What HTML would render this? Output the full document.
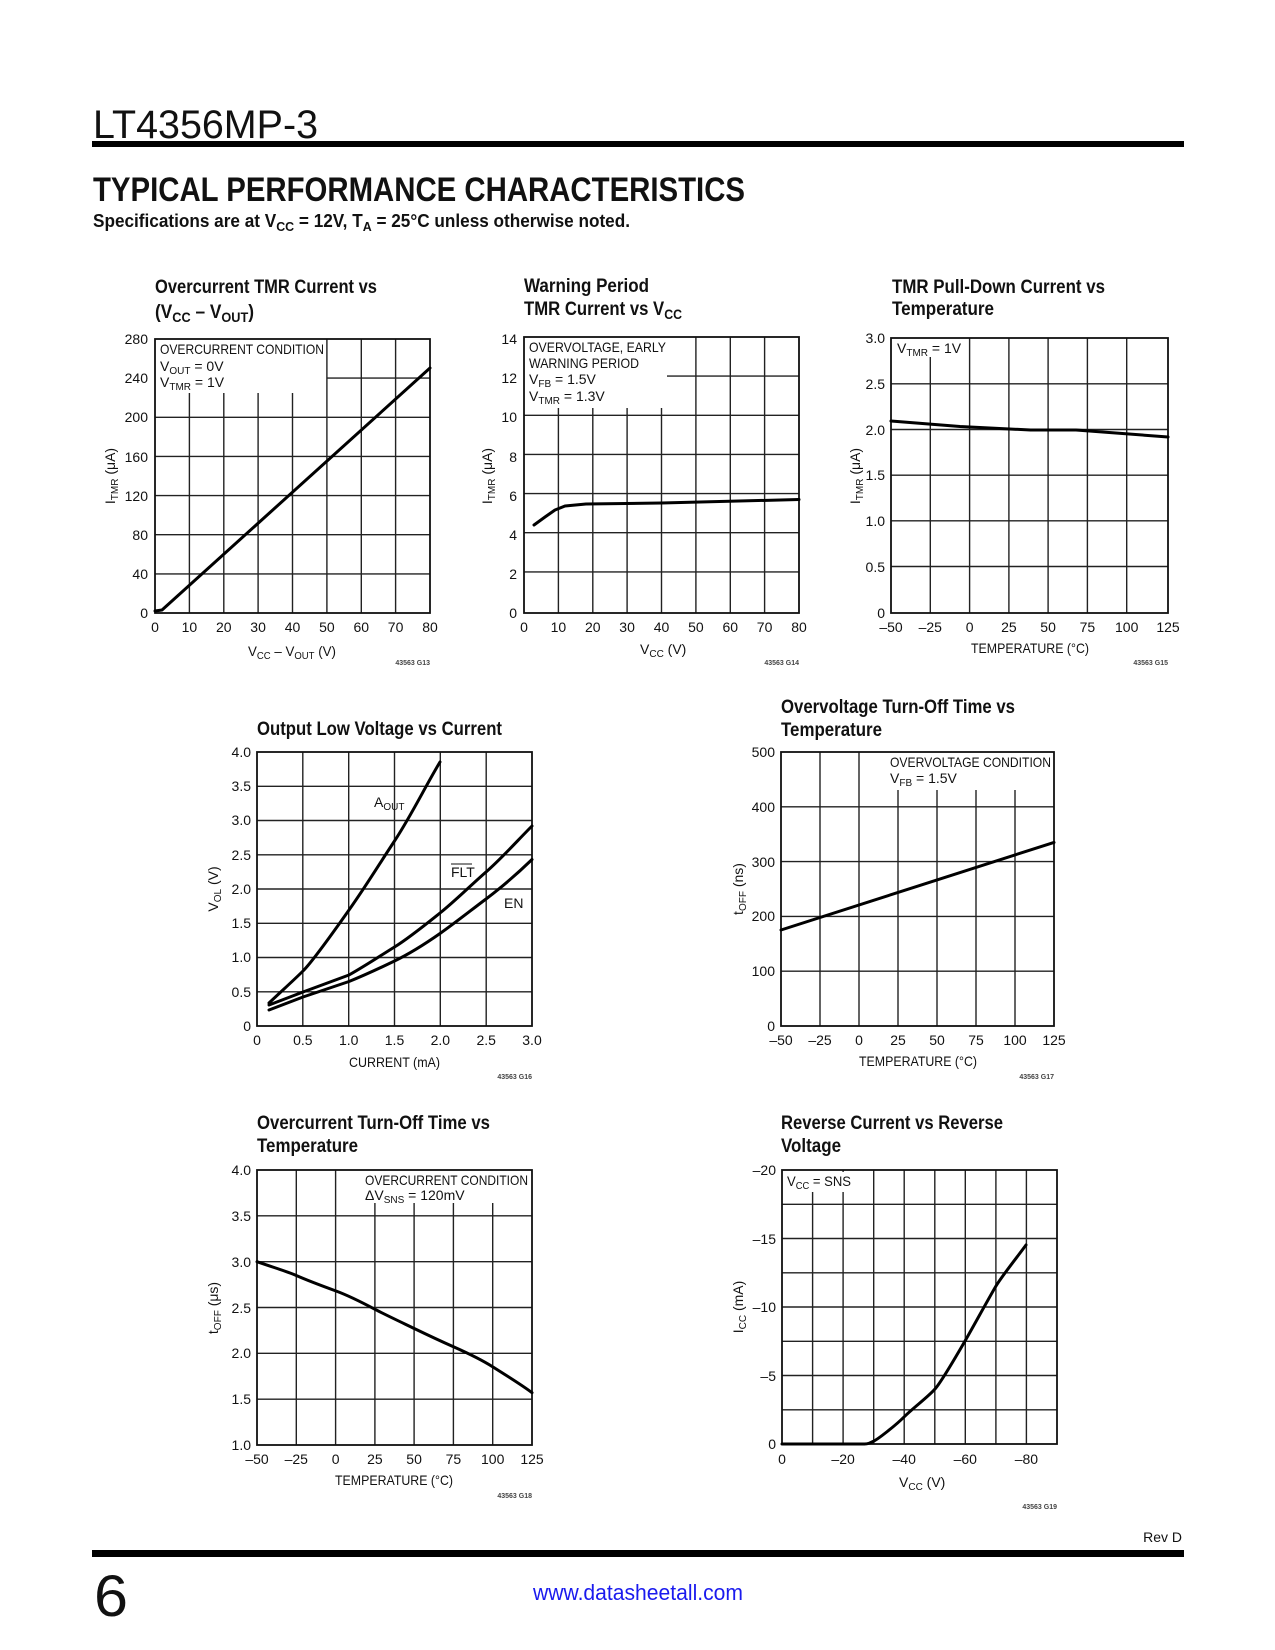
<!DOCTYPE html>
<html><head><meta charset="utf-8"><style>
html,body{margin:0;padding:0;background:#fff;}
svg{display:block;}
text{font-family:"Liberation Sans Narrow","Liberation Sans",sans-serif;fill:#111;}
.t{font-weight:bold;font-size:19px;}
.k{font-size:14px;}
.l{font-size:14px;}
.c{font-size:7px;font-weight:bold;fill:#444;}
.g{stroke:#222;stroke-width:1.4;fill:none;}
.b{stroke:#111;stroke-width:1.8;fill:none;}
.d{stroke:#000;stroke-width:3;fill:none;stroke-linejoin:round;stroke-linecap:round;}
</style></head><body>
<svg width="1275" height="1650" viewBox="0 0 1275 1650" xmlns="http://www.w3.org/2000/svg">
<!-- header -->
<text x="93" y="138" style="font-family:'Liberation Sans',sans-serif;font-size:40px;font-weight:300" textLength="225" lengthAdjust="spacingAndGlyphs">LT4356MP-3</text>
<rect x="92" y="141" width="1092" height="6" fill="#000"/>
<text x="93" y="201" style="font-family:'Liberation Sans',sans-serif;font-size:34px;font-weight:bold" textLength="652" lengthAdjust="spacingAndGlyphs">TYPICAL PERFORMANCE CHARACTERISTICS</text>
<text x="93" y="227" style="font-size:18px;font-weight:bold" textLength="537" lengthAdjust="spacingAndGlyphs">Specifications are at V<tspan font-size="13" dy="4">CC</tspan><tspan dy="-4"> = 12V, T</tspan><tspan font-size="13" dy="4">A</tspan><tspan dy="-4"> = 25°C unless otherwise noted.</tspan></text>

<!-- Chart 1 -->
<text class="t" x="155" y="293" textLength="222" lengthAdjust="spacingAndGlyphs">Overcurrent TMR Current vs</text>
<text class="t" x="155" y="318" textLength="99" lengthAdjust="spacingAndGlyphs">(V<tspan font-size="14" dy="4">CC</tspan><tspan dy="-4"> – V</tspan><tspan font-size="14" dy="4">OUT</tspan><tspan dy="-4">)</tspan></text>
<g class="g">
<path d="M189.4 393V613M223.8 393V613M258.1 393V613M292.5 393V613M326.9 339V613M361.3 339V613M395.6 339V613"/>
<path d="M326.9 378.1H430M155 417.3H430M155 456.4H430M155 495.6H430M155 534.7H430M155 573.9H430"/>
</g>
<rect x="155" y="339" width="275" height="274" class="b"/>
<rect x="157" y="341" width="166" height="14" fill="#fff"/>
<path class="d" d="M155 611L162 610L430 368"/>
<g class="k" text-anchor="end"><text x="148" y="618">0</text><text x="148" y="579">40</text><text x="148" y="540">80</text><text x="148" y="501">120</text><text x="148" y="462">160</text><text x="148" y="422">200</text><text x="148" y="383">240</text><text x="148" y="344">280</text></g>
<g class="k" text-anchor="middle"><text x="155" y="632">0</text><text x="189.4" y="632">10</text><text x="223.8" y="632">20</text><text x="258.1" y="632">30</text><text x="292.5" y="632">40</text><text x="326.9" y="632">50</text><text x="361.3" y="632">60</text><text x="395.6" y="632">70</text><text x="430" y="632">80</text></g>
<g class="l"><text x="160" y="354" textLength="164" lengthAdjust="spacingAndGlyphs">OVERCURRENT CONDITION</text><text x="160" y="371">V<tspan font-size="10" dy="3">OUT</tspan><tspan dy="-3"> = 0V</tspan></text><text x="160" y="387">V<tspan font-size="10" dy="3">TMR</tspan><tspan dy="-3"> = 1V</tspan></text></g>
<text class="l" x="248" y="656" textLength="88" lengthAdjust="spacingAndGlyphs">V<tspan font-size="10" dy="3">CC</tspan><tspan dy="-3"> – V</tspan><tspan font-size="10" dy="3">OUT</tspan><tspan dy="-3"> (V)</tspan></text>
<text class="l" transform="translate(115,476) rotate(-90)" text-anchor="middle">I<tspan font-size="10" dy="3">TMR</tspan><tspan dy="-3"> (μA)</tspan></text>
<text class="c" x="430" y="665" text-anchor="end">43563 G13</text>

<!-- Chart 2 -->
<text class="t" x="524" y="292" textLength="125" lengthAdjust="spacingAndGlyphs">Warning Period</text>
<text class="t" x="524" y="315" textLength="158" lengthAdjust="spacingAndGlyphs">TMR Current vs V<tspan font-size="14" dy="4">CC</tspan></text>
<g class="g">
<path d="M558.4 408V613M592.8 408V613M627.1 408V613M661.5 408V613M695.9 337V613M730.3 337V613M764.6 337V613"/>
<path d="M667 376.1H799M524 415.3H799M524 454.4H799M524 493.6H799M524 532.7H799M524 571.9H799"/>
</g>
<rect x="524" y="337" width="275" height="276" class="b"/>
<rect x="526" y="339" width="142" height="14" fill="#fff"/>
<path class="d" d="M534 525L545 517L555 510L565 506L586 504L661.5 503L799 499.5"/>
<g class="k" text-anchor="end"><text x="517" y="618">0</text><text x="517" y="579">2</text><text x="517" y="540">4</text><text x="517" y="501">6</text><text x="517" y="462">8</text><text x="517" y="422">10</text><text x="517" y="383">12</text><text x="517" y="344">14</text></g>
<g class="k" text-anchor="middle"><text x="524" y="632">0</text><text x="558.4" y="632">10</text><text x="592.8" y="632">20</text><text x="627.1" y="632">30</text><text x="661.5" y="632">40</text><text x="695.9" y="632">50</text><text x="730.3" y="632">60</text><text x="764.6" y="632">70</text><text x="799" y="632">80</text></g>
<g class="l"><text x="529" y="352" textLength="137" lengthAdjust="spacingAndGlyphs">OVERVOLTAGE, EARLY</text><text x="529" y="368" textLength="110" lengthAdjust="spacingAndGlyphs">WARNING PERIOD</text><text x="529" y="384">V<tspan font-size="10" dy="3">FB</tspan><tspan dy="-3"> = 1.5V</tspan></text><text x="529" y="401">V<tspan font-size="10" dy="3">TMR</tspan><tspan dy="-3"> = 1.3V</tspan></text></g>
<text class="l" x="640" y="654">V<tspan font-size="10" dy="3">CC</tspan><tspan dy="-3"> (V)</tspan></text>
<text class="l" transform="translate(492,476) rotate(-90)" text-anchor="middle">I<tspan font-size="10" dy="3">TMR</tspan><tspan dy="-3"> (μA)</tspan></text>
<text class="c" x="799" y="665" text-anchor="end">43563 G14</text>

<!-- Chart 3 -->
<text class="t" x="892" y="293" textLength="213" lengthAdjust="spacingAndGlyphs">TMR Pull-Down Current vs</text>
<text class="t" x="892" y="315" textLength="102" lengthAdjust="spacingAndGlyphs">Temperature</text>
<g class="g">
<path d="M930.3 357V613M969.6 338V613M1008.9 338V613M1048.1 338V613M1087.4 338V613M1126.7 338V613"/>
<path d="M891 383.8H1168M891 429.5H1168M891 475.2H1168M891 520.8H1168M891 566.5H1168"/>
</g>
<rect x="891" y="338" width="277" height="275" class="b"/>
<rect x="893" y="340" width="70" height="16" fill="#fff"/>
<path class="d" d="M891 421L960 426.5L1030.5 430L1076 430L1168 437"/>
<g class="k" text-anchor="end"><text x="885" y="618">0</text><text x="885" y="572">0.5</text><text x="885" y="526">1.0</text><text x="885" y="480">1.5</text><text x="885" y="435">2.0</text><text x="885" y="389">2.5</text><text x="885" y="343">3.0</text></g>
<g class="k" text-anchor="middle"><text x="891" y="632">–50</text><text x="930.3" y="632">–25</text><text x="969.6" y="632">0</text><text x="1008.9" y="632">25</text><text x="1048.1" y="632">50</text><text x="1087.4" y="632">75</text><text x="1126.7" y="632">100</text><text x="1168" y="632">125</text></g>
<text class="l" x="897" y="353">V<tspan font-size="10" dy="3">TMR</tspan><tspan dy="-3"> = 1V</tspan></text>
<text class="l" x="971" y="653" textLength="118" lengthAdjust="spacingAndGlyphs">TEMPERATURE (°C)</text>
<text class="l" transform="translate(860,476) rotate(-90)" text-anchor="middle">I<tspan font-size="10" dy="3">TMR</tspan><tspan dy="-3"> (μA)</tspan></text>
<text class="c" x="1168" y="665" text-anchor="end">43563 G15</text>

<!-- Chart 4 -->
<text class="t" x="257" y="735" textLength="245" lengthAdjust="spacingAndGlyphs">Output Low Voltage vs Current</text>
<g class="g">
<path d="M302.8 752V1026M348.7 752V1026M394.5 752V1026M440.3 752V1026M486.2 752V1026"/>
<path d="M257 786.3H532M257 820.5H532M257 854.8H532M257 889H532M257 923.3H532M257 957.5H532M257 991.8H532"/>
</g>
<rect x="257" y="752" width="275" height="274" class="b"/>
<path class="d" d="M269 1003C285 988 296 978 303 971S330 937 349 910S378 866 394.5 841S425 787 440 762"/>
<path class="d" d="M269 1005L303 992L349 975C365 966 380 956 394.5 947S425 925 440 913S470 886 486 872S518 840 532 826"/>
<path class="d" d="M269 1010L303 997L349 981.5C365 975 380 968 394.5 961S425 944 440 933.5S470 911 486 899S518 873 532 859.5"/>
<g class="k" text-anchor="end"><text x="251" y="1031">0</text><text x="251" y="997">0.5</text><text x="251" y="962">1.0</text><text x="251" y="928">1.5</text><text x="251" y="894">2.0</text><text x="251" y="860">2.5</text><text x="251" y="825">3.0</text><text x="251" y="791">3.5</text><text x="251" y="757">4.0</text></g>
<g class="k" text-anchor="middle"><text x="257" y="1045">0</text><text x="302.8" y="1045">0.5</text><text x="348.7" y="1045">1.0</text><text x="394.5" y="1045">1.5</text><text x="440.3" y="1045">2.0</text><text x="486.2" y="1045">2.5</text><text x="532" y="1045">3.0</text></g>
<text class="l" x="374" y="807">A<tspan font-size="10" dy="3">OUT</tspan></text>
<text class="l" x="451" y="877">FLT</text><path d="M451 864H472" stroke="#111" stroke-width="1"/>
<text class="l" x="504" y="908">EN</text>
<text class="l" x="349" y="1067" textLength="91" lengthAdjust="spacingAndGlyphs">CURRENT (mA)</text>
<text class="l" transform="translate(218,889) rotate(-90)" text-anchor="middle">V<tspan font-size="10" dy="3">OL</tspan><tspan dy="-3"> (V)</tspan></text>
<text class="c" x="532" y="1079" text-anchor="end">43563 G16</text>

<!-- Chart 5 -->
<text class="t" x="781" y="713" textLength="234" lengthAdjust="spacingAndGlyphs">Overvoltage Turn-Off Time vs</text>
<text class="t" x="781" y="736" textLength="101" lengthAdjust="spacingAndGlyphs">Temperature</text>
<g class="g">
<path d="M820 752V1026M859 752V1026M898 790V1026M937 790V1026M976 790V1026M1015 790V1026"/>
<path d="M781 806.8H1054M781 861.6H1054M781 916.4H1054M781 971.2H1054"/>
</g>
<rect x="781" y="752" width="273" height="274" class="b"/>
<path class="d" d="M781 930L1054 842.4"/>
<g class="k" text-anchor="end"><text x="775" y="1031">0</text><text x="775" y="976">100</text><text x="775" y="921">200</text><text x="775" y="867">300</text><text x="775" y="812">400</text><text x="775" y="757">500</text></g>
<g class="k" text-anchor="middle"><text x="781" y="1045">–50</text><text x="820" y="1045">–25</text><text x="859" y="1045">0</text><text x="898" y="1045">25</text><text x="937" y="1045">50</text><text x="976" y="1045">75</text><text x="1015" y="1045">100</text><text x="1054" y="1045">125</text></g>
<g class="l"><text x="890" y="767" textLength="161" lengthAdjust="spacingAndGlyphs">OVERVOLTAGE CONDITION</text><text x="890" y="783">V<tspan font-size="10" dy="3">FB</tspan><tspan dy="-3"> = 1.5V</tspan></text></g>
<text class="l" x="859" y="1066" textLength="118" lengthAdjust="spacingAndGlyphs">TEMPERATURE (°C)</text>
<text class="l" transform="translate(743,889) rotate(-90)" text-anchor="middle">t<tspan font-size="10" dy="3">OFF</tspan><tspan dy="-3"> (ns)</tspan></text>
<text class="c" x="1054" y="1079" text-anchor="end">43563 G17</text>

<!-- Chart 6 -->
<text class="t" x="257" y="1129" textLength="233" lengthAdjust="spacingAndGlyphs">Overcurrent Turn-Off Time vs</text>
<text class="t" x="257" y="1152" textLength="101" lengthAdjust="spacingAndGlyphs">Temperature</text>
<g class="g">
<path d="M296.3 1170V1445M335.6 1170V1445M374.9 1203V1445M414.1 1203V1445M453.4 1203V1445M492.7 1203V1445"/>
<path d="M257 1215.8H532M257 1261.7H532M257 1307.5H532M257 1353.3H532M257 1399.2H532"/>
</g>
<rect x="257" y="1170" width="275" height="275" class="b"/>
<path class="d" d="M257 1261.7C275 1268 286 1271 296 1275.4S325 1287 336 1291S365 1304 375 1309.3S405 1324 414.5 1328.6S445 1343 454 1347S482 1360 493 1367S522 1385 532 1392.7"/>
<g class="k" text-anchor="end"><text x="251" y="1450">1.0</text><text x="251" y="1404">1.5</text><text x="251" y="1358">2.0</text><text x="251" y="1313">2.5</text><text x="251" y="1267">3.0</text><text x="251" y="1221">3.5</text><text x="251" y="1175">4.0</text></g>
<g class="k" text-anchor="middle"><text x="257" y="1464">–50</text><text x="296.3" y="1464">–25</text><text x="335.6" y="1464">0</text><text x="374.9" y="1464">25</text><text x="414.1" y="1464">50</text><text x="453.4" y="1464">75</text><text x="492.7" y="1464">100</text><text x="532" y="1464">125</text></g>
<g class="l"><text x="365" y="1185" textLength="163" lengthAdjust="spacingAndGlyphs">OVERCURRENT CONDITION</text><text x="365" y="1200">ΔV<tspan font-size="10" dy="3">SNS</tspan><tspan dy="-3"> = 120mV</tspan></text></g>
<text class="l" x="335" y="1485" textLength="118" lengthAdjust="spacingAndGlyphs">TEMPERATURE (°C)</text>
<text class="l" transform="translate(218,1308) rotate(-90)" text-anchor="middle">t<tspan font-size="10" dy="3">OFF</tspan><tspan dy="-3"> (μs)</tspan></text>
<text class="c" x="532" y="1498" text-anchor="end">43563 G18</text>

<!-- Chart 7 -->
<text class="t" x="781" y="1129" textLength="222" lengthAdjust="spacingAndGlyphs">Reverse Current vs Reverse</text>
<text class="t" x="781" y="1152" textLength="60" lengthAdjust="spacingAndGlyphs">Voltage</text>
<g class="g">
<path d="M812.6 1192V1444M843.1 1170V1444M873.7 1170V1444M904.2 1170V1444M934.8 1170V1444M965.3 1170V1444M995.9 1170V1444M1026.4 1170V1444"/>
<path d="M782 1204.3H1057M782 1238.5H1057M782 1272.8H1057M782 1307H1057M782 1341.3H1057M782 1375.5H1057M782 1409.8H1057"/>
</g>
<rect x="782" y="1170" width="275" height="274" class="b"/>
<rect x="784" y="1172" width="70" height="20" fill="#fff"/>
<path class="d" d="M782 1444L864.5 1444C868 1444 870 1443 874 1441S895 1426 904 1417S928 1397 935 1389S958 1353 965 1341S990 1296 996 1286S1018 1256 1026 1245"/>
<g class="k" text-anchor="end"><text x="776" y="1449">0</text><text x="776" y="1381">–5</text><text x="776" y="1312">–10</text><text x="776" y="1244">–15</text><text x="776" y="1175">–20</text></g>
<g class="k" text-anchor="middle"><text x="782" y="1464">0</text><text x="843.1" y="1464">–20</text><text x="904.2" y="1464">–40</text><text x="965.3" y="1464">–60</text><text x="1026.4" y="1464">–80</text></g>
<text class="l" x="787" y="1186" textLength="64" lengthAdjust="spacingAndGlyphs">V<tspan font-size="10" dy="3">CC</tspan><tspan dy="-3"> = SNS</tspan></text>
<text class="l" x="899" y="1487">V<tspan font-size="10" dy="3">CC</tspan><tspan dy="-3"> (V)</tspan></text>
<text class="l" transform="translate(743,1307) rotate(-90)" text-anchor="middle">I<tspan font-size="10" dy="3">CC</tspan><tspan dy="-3"> (mA)</tspan></text>
<text class="c" x="1057" y="1509" text-anchor="end">43563 G19</text>

<!-- footer -->
<text x="1182" y="1542" text-anchor="end" style="font-size:14px">Rev D</text>
<rect x="92" y="1550" width="1092" height="7" fill="#000"/>
<text x="94" y="1616" style="font-family:'Liberation Sans',sans-serif;font-size:58px;font-weight:300" textLength="34" lengthAdjust="spacingAndGlyphs">6</text>
<text x="533" y="1600" style="font-size:22px;fill:#1a1aee" textLength="210" lengthAdjust="spacingAndGlyphs">www.datasheetall.com</text>
</svg>
</body></html>
